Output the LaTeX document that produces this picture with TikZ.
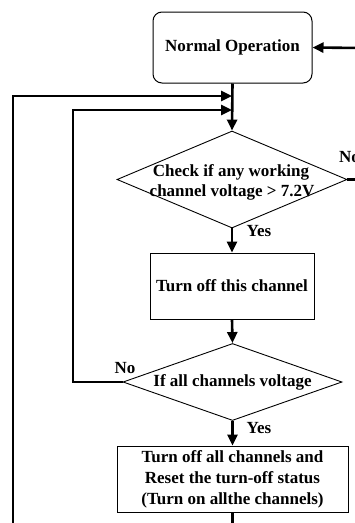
\documentclass[tikz,border=0pt]{standalone}
\usepackage{fontspec}
\setmainfont{Liberation Serif}
\usetikzlibrary{shapes.geometric,arrows.meta}
\begin{document}
\begin{tikzpicture}[x=1pt,y=1pt,
  font=\fontsize{17}{21}\selectfont\bfseries,
  box/.style={draw, line width=1pt, inner sep=0pt, align=center},
  dia/.style={draw, diamond, line width=0.9pt, inner sep=0pt},
  conn/.style={line width=2.6pt},
  arr/.style={conn, -{Triangle[length=11pt,width=10pt]}},
  lbl/.style={inner sep=0pt}]
\useasboundingbox (0,0) rectangle (355,-523);
% shapes
\node[box, rounded corners=9pt, minimum width=159pt, minimum height=71pt] (normal) at (232.5,-47.5) {Normal Operation};
\node[dia, minimum width=230pt, minimum height=97pt] (d1) at (232,-179.5) {};
\node[lbl] (t1) at (231,-172) {Check if any working};
\node[lbl] (t2) at (232,-192) {channel voltage > 7.2V};
\node[box, minimum width=164pt, minimum height=66pt] (b2) at (232,-286) {Turn off this channel};
\node[dia, minimum width=219pt, minimum height=77pt] (d2) at (232.5,-382) {};
\node[lbl] (t3) at (232.5,-382) {If all channels voltage};
\node[box, minimum width=231pt, minimum height=66pt] (b3) at (232.5,-479) {Turn off all channels and\\Reset the turn-off status\\(Turn on allthe channels)};
% labels
\node[lbl] (yes1) at (259,-231) {Yes};
\node[lbl] (yes2) at (259,-428) {Yes};
\node[lbl] (no2) at (125,-368) {No};
\node[lbl, anchor=west] (no1) at (339,-157) {No};
% coordinates
\coordinate (rin) at (362,-48);
\coordinate (rout) at (362,-179.5);
\coordinate (j1) at (232,-96);
\coordinate (j2) at (232,-110);
\coordinate (l1) at (13,-96);
\coordinate (l1b) at (13,-530);
\coordinate (l2) at (73,-110);
\coordinate (l2b) at (73,-382);
\coordinate (bot) at (232.5,-530);
% connectors
\draw[arr] (rin) -- (normal.east);
\draw[arr] (normal.south) -- (d1.north);
\draw[arr] (l1b) -- (l1) -- (j1);
\draw[arr] (d2.west) -- (l2b) -- (l2) -- (j2);
\draw[conn] (d1.east) -- (rout);
\draw[arr] (d1.south) -- (b2.north);
\draw[arr] (b2.south) -- (d2.north);
\draw[arr] (d2.south) -- (b3.north);
\draw[conn] (b3.south) -- (bot);
\end{tikzpicture}
\end{document}
